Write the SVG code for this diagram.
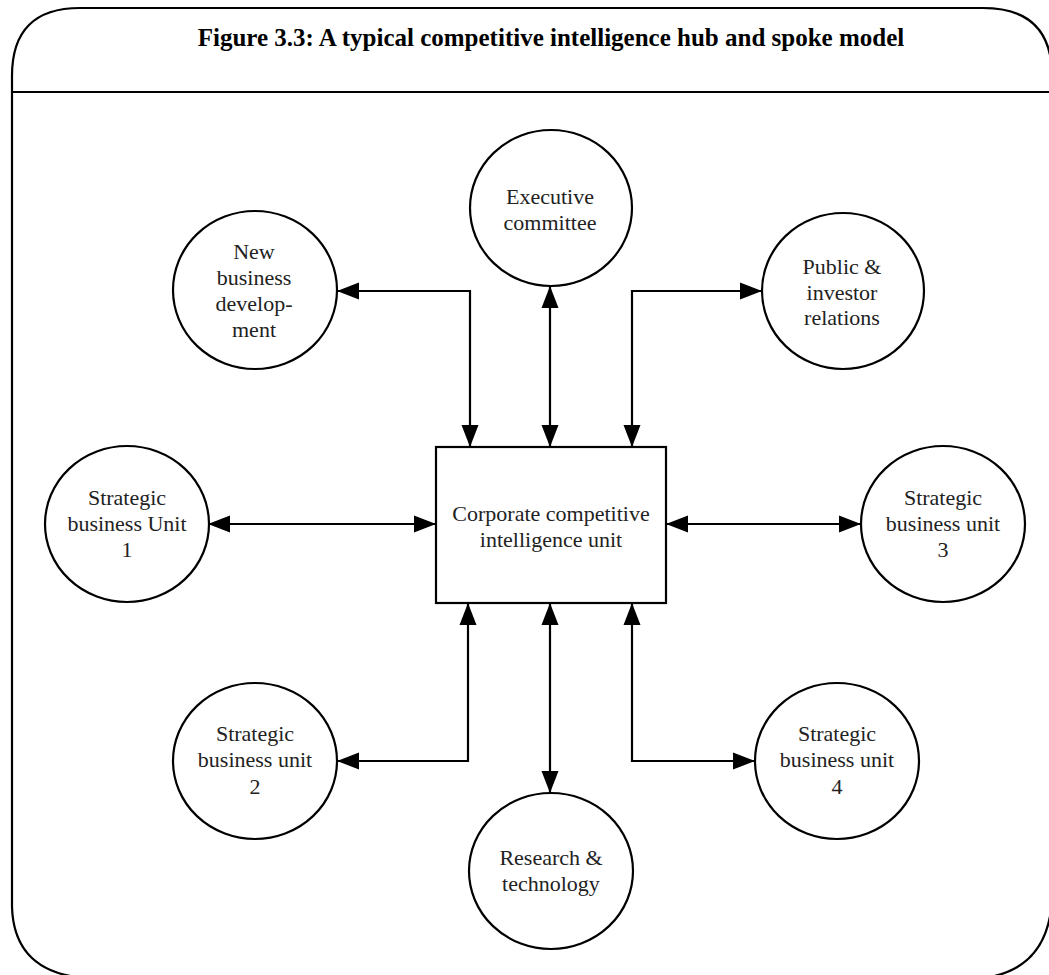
<svg xmlns="http://www.w3.org/2000/svg" width="1049" height="975" viewBox="0 0 1049 975">
  <style>
    .frame { fill: none; stroke: #000; stroke-width: 2.2; }
    .node { fill: #fff; stroke: #000; stroke-width: 2.2; }
    .label { font-family: "Liberation Serif", "Times New Roman", serif; font-size: 22px; fill: #222; text-anchor: middle; }
    .title { font-family: "Liberation Serif", "Times New Roman", serif; font-size: 25px; font-weight: bold; fill: #000; text-anchor: middle; }
    .link { fill: none; stroke: #000; stroke-width: 2.2; }
  </style>
  <defs>
    <marker id="arrow" markerUnits="userSpaceOnUse" markerWidth="22" markerHeight="18" refX="22" refY="8.5" orient="auto-start-reverse" viewBox="0 0 22 17">
      <path d="M0,0 L22,8.5 L0,17 z" fill="#000"/>
    </marker>
  </defs>
  <rect width="1049" height="975" fill="#fff"/>

  <!-- outer rounded frame and header -->
  <g id="frame">
    <path class="frame" d="M76,977 Q14,968 12,907 L12,76 Q12,8 80,8 L983,8 Q1052,8 1052,76 L1052,900 Q1048,966 990,977"/>
    <line class="frame" x1="12" y1="92" x2="1049" y2="92"/>
    <text class="title" x="551" y="46">Figure 3.3: A typical competitive intelligence hub and spoke model</text>
  </g>

  <!-- connectors -->
  <g id="connectors">
    <polyline class="link" points="337,291 470,291 470,447" marker-start="url(#arrow)" marker-end="url(#arrow)"/>
    <line class="link" x1="550" y1="286" x2="550" y2="447" marker-start="url(#arrow)" marker-end="url(#arrow)"/>
    <polyline class="link" points="632,447 632,291 762,291" marker-start="url(#arrow)" marker-end="url(#arrow)"/>
    <line class="link" x1="208" y1="524" x2="436" y2="524" marker-start="url(#arrow)" marker-end="url(#arrow)"/>
    <line class="link" x1="666" y1="524" x2="861" y2="524" marker-start="url(#arrow)" marker-end="url(#arrow)"/>
    <polyline class="link" points="468,603 468,761 337,761" marker-start="url(#arrow)" marker-end="url(#arrow)"/>
    <line class="link" x1="550" y1="603" x2="550" y2="793" marker-start="url(#arrow)" marker-end="url(#arrow)"/>
    <polyline class="link" points="632,603 632,761 755,761" marker-start="url(#arrow)" marker-end="url(#arrow)"/>
  </g>

  <!-- hub -->
  <g id="hub">
    <rect class="node" x="436" y="447" width="230" height="156"/>
    <text class="label" x="551" y="521">Corporate competitive</text>
    <text class="label" x="551" y="547">intelligence unit</text>
  </g>

  <!-- spokes -->
  <g id="executive">
    <ellipse class="node" cx="551" cy="208" rx="81" ry="78"/>
    <text class="label" x="550" y="204">Executive</text>
    <text class="label" x="550" y="230">committee</text>
  </g>
  <g id="new-business">
    <ellipse class="node" cx="255" cy="290" rx="82" ry="79"/>
    <text class="label" x="254" y="259">New</text>
    <text class="label" x="254" y="285">business</text>
    <text class="label" x="254" y="311">develop-</text>
    <text class="label" x="254" y="337">ment</text>
  </g>
  <g id="public-investor">
    <ellipse class="node" cx="843" cy="291" rx="81" ry="78"/>
    <text class="label" x="842" y="274">Public &amp;</text>
    <text class="label" x="842" y="300">investor</text>
    <text class="label" x="842" y="325">relations</text>
  </g>
  <g id="sbu1">
    <ellipse class="node" cx="127" cy="524" rx="82" ry="78"/>
    <text class="label" x="127" y="505">Strategic</text>
    <text class="label" x="127" y="531">business Unit</text>
    <text class="label" x="127" y="557">1</text>
  </g>
  <g id="sbu3">
    <ellipse class="node" cx="943" cy="524" rx="82" ry="78"/>
    <text class="label" x="943" y="505">Strategic</text>
    <text class="label" x="943" y="531">business unit</text>
    <text class="label" x="943" y="557">3</text>
  </g>
  <g id="sbu2">
    <ellipse class="node" cx="255" cy="761" rx="82" ry="78"/>
    <text class="label" x="255" y="741">Strategic</text>
    <text class="label" x="255" y="767">business unit</text>
    <text class="label" x="255" y="794">2</text>
  </g>
  <g id="sbu4">
    <ellipse class="node" cx="837" cy="761" rx="82" ry="78"/>
    <text class="label" x="837" y="741">Strategic</text>
    <text class="label" x="837" y="767">business unit</text>
    <text class="label" x="837" y="794">4</text>
  </g>
  <g id="research">
    <ellipse class="node" cx="551" cy="871" rx="82" ry="78"/>
    <text class="label" x="551" y="865">Research &amp;</text>
    <text class="label" x="551" y="891">technology</text>
  </g>
</svg>
